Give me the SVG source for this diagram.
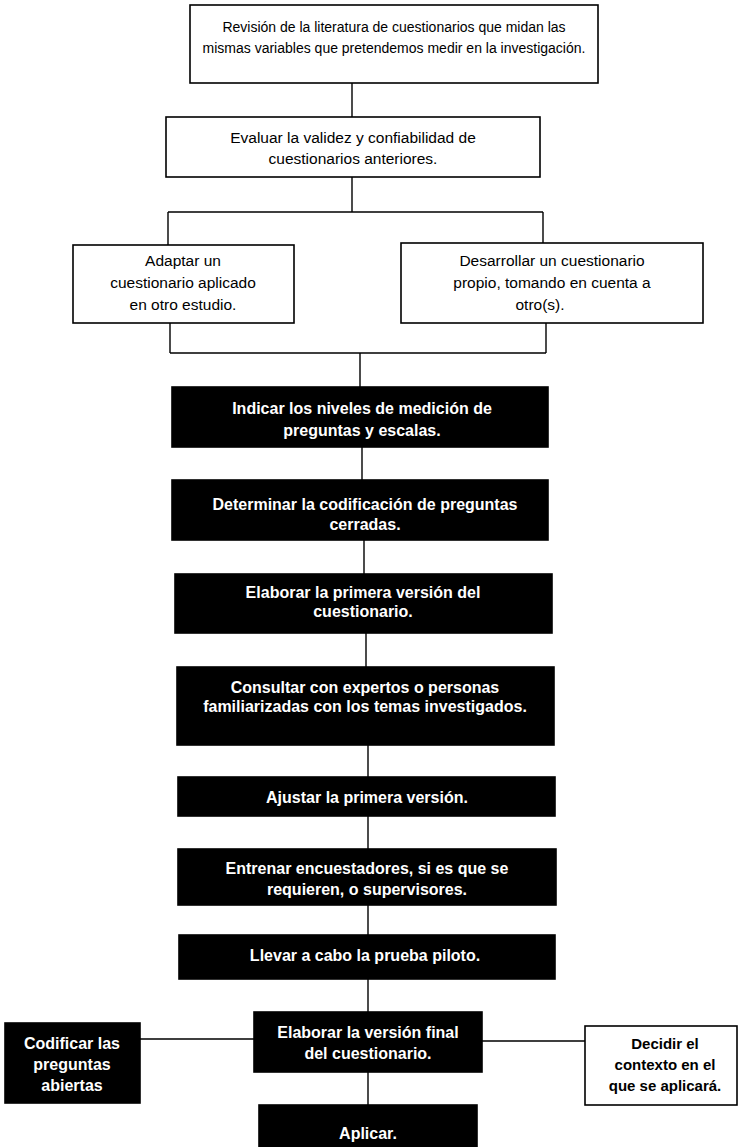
<svg xmlns="http://www.w3.org/2000/svg" width="738" height="1147" viewBox="0 0 738 1147">
<style>
.w{fill:#fff;stroke:#000;stroke-width:1.6}
.d{fill:#000;stroke:#000;stroke-width:1.6}
.tw{font-family:"Liberation Sans",Arial,sans-serif;font-size:14px;fill:#000;text-anchor:middle}
.tm{font-family:"Liberation Sans",Arial,sans-serif;font-size:15.5px;fill:#000;text-anchor:middle}
.tb{font-family:"Liberation Sans",Arial,sans-serif;font-size:15px;font-weight:bold;fill:#000;text-anchor:middle}
.td{font-family:"Liberation Sans",Arial,sans-serif;font-size:16px;font-weight:bold;fill:#fff;text-anchor:middle}
.c{fill:none;stroke:#000;stroke-width:1.4}
</style>
<rect width="738" height="1147" fill="#fff"/>
<g id="connectors" class="c">
<path d="M352 83V117M352 177V212M168 212H543M168 212V245M543 212V243"/>
<path d="M170 323V353M546 323V353M170 353H546M360 353V387"/>
<path d="M362 447V480M364 540V574M366 633V667M368 745V777M368 816V849M368 905V935M368 979V1012M368 1072V1105"/>
<path d="M140 1039H254M482 1041H585"/>
</g>
<g id="n1"><rect class="w" x="190" y="5" width="408" height="78"/>
<text class="tw" x="394" y="32">Revisión de la literatura de cuestionarios que midan las</text>
<text class="tw" x="394" y="53">mismas variables que pretendemos medir en la investigación.</text></g>
<g id="n2"><rect class="w" x="166" y="117" width="374" height="60"/>
<text class="tm" x="353" y="143">Evaluar la validez y confiabilidad de</text>
<text class="tm" x="353" y="164">cuestionarios anteriores.</text></g>
<g id="n3"><rect class="w" x="73" y="245" width="221" height="78"/>
<text class="tm" x="183" y="266">Adaptar un</text>
<text class="tm" x="183" y="288">cuestionario aplicado</text>
<text class="tm" x="183" y="310">en otro estudio.</text></g>
<g id="n4"><rect class="w" x="401" y="243" width="302" height="80"/>
<text class="tm" x="552" y="266">Desarrollar un cuestionario</text>
<text class="tm" x="552" y="288">propio, tomando en cuenta a</text>
<text class="tm" x="540" y="310">otro(s).</text></g>
<g id="n5"><rect class="d" x="172" y="387" width="376" height="60"/>
<text class="td" x="362" y="414">Indicar los niveles de medición de</text>
<text class="td" x="362" y="436">preguntas y escalas.</text></g>
<g id="n6"><rect class="d" x="172" y="480" width="376" height="60"/>
<text class="td" x="365" y="510">Determinar la codificación de preguntas</text>
<text class="td" x="365" y="530">cerradas.</text></g>
<g id="n7"><rect class="d" x="175" y="574" width="377" height="59"/>
<text class="td" x="363" y="598">Elaborar la primera versión del</text>
<text class="td" x="363" y="617">cuestionario.</text></g>
<g id="n8"><rect class="d" x="177" y="667" width="377" height="78"/>
<text class="td" x="365" y="693">Consultar con expertos o personas</text>
<text class="td" x="365" y="712">familiarizadas con los temas investigados.</text></g>
<g id="n9"><rect class="d" x="178" y="777" width="377" height="39"/>
<text class="td" x="367" y="803">Ajustar la primera versión.</text></g>
<g id="n10"><rect class="d" x="178" y="849" width="378" height="56"/>
<text class="td" x="367" y="874">Entrenar encuestadores, si es que se</text>
<text class="td" x="367" y="895">requieren, o supervisores.</text></g>
<g id="n11"><rect class="d" x="179" y="935" width="376" height="44"/>
<text class="td" x="365" y="961">Llevar a cabo la prueba piloto.</text></g>
<g id="n12"><rect class="d" x="254" y="1012" width="228" height="60"/>
<text class="td" x="368" y="1038">Elaborar la versión final</text>
<text class="td" x="368" y="1059">del cuestionario.</text></g>
<g id="n13"><rect class="d" x="259" y="1105" width="218" height="44"/>
<text class="td" x="368" y="1139">Aplicar.</text></g>
<g id="n14"><rect class="d" x="5" y="1023" width="135" height="80"/>
<text class="td" x="72" y="1049">Codificar las</text>
<text class="td" x="72" y="1070">preguntas</text>
<text class="td" x="72" y="1091">abiertas</text></g>
<g id="n15"><rect class="w" x="585" y="1026" width="152" height="79"/>
<text class="tb" x="665" y="1049">Decidir el</text>
<text class="tb" x="665" y="1070">contexto en el</text>
<text class="tb" x="665" y="1091">que se aplicará.</text></g>
</svg>
